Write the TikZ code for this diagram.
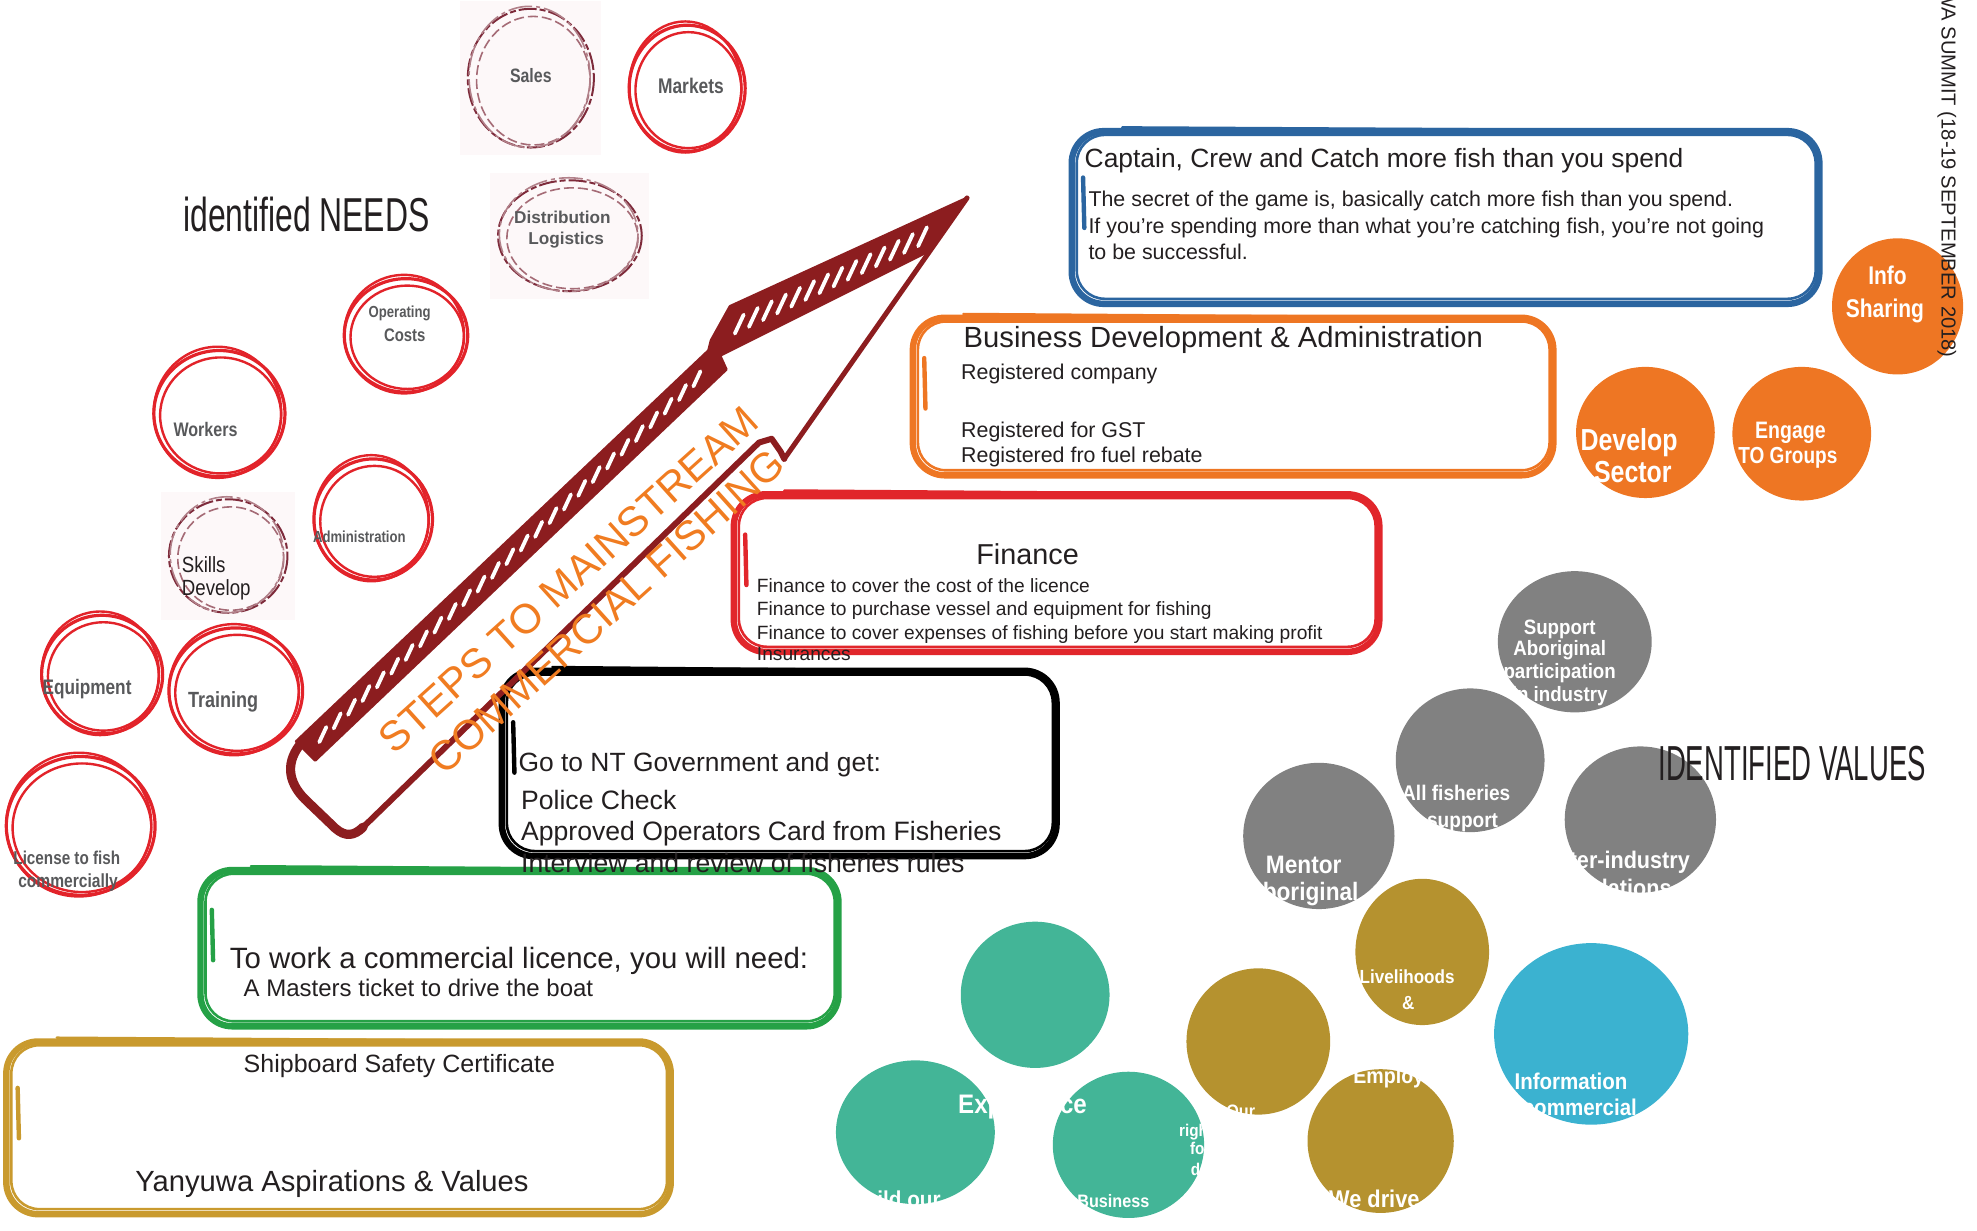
\documentclass[tikz,border=0pt]{standalone}
\usepackage{fontspec}
\setmainfont{Liberation Sans}
\newfontfamily\fneedlbl[FakeStretch=0.82]{Liberation Sans}
\newfontfamily\fvallbl[FakeStretch=0.9]{Liberation Sans}
\newfontfamily\fskill[FakeStretch=0.85]{Liberation Sans}
\newfontfamily\fneedhead[FakeStretch=0.67]{Liberation Sans}
\newfontfamily\fvalhead[FakeStretch=0.56]{Liberation Sans}
\usetikzlibrary{calc}

\definecolor{ink}{HTML}{231F20}
\definecolor{lblgray}{HTML}{58595B}
\definecolor{ringred}{HTML}{E2232A}
\definecolor{ringdark}{HTML}{7E2B3B}
\definecolor{ringbg}{HTML}{FDF8F9}
\definecolor{arrowred}{HTML}{8C1D1F}
\definecolor{steporange}{HTML}{F07C21}
\definecolor{boxblue}{HTML}{2B65A0}
\definecolor{boxorange}{HTML}{EE7623}
\definecolor{boxred}{HTML}{E1262B}
\definecolor{boxgreen}{HTML}{25A146}
\definecolor{boxgold}{HTML}{C99A2E}
\definecolor{dotorange}{HTML}{EE7623}
\definecolor{dotgray}{HTML}{818181}
\definecolor{dotgold}{HTML}{B5922F}
\definecolor{dotteal}{HTML}{43B597}
\definecolor{dotblue}{HTML}{3BB2D0}

% hand-drawn rounded box: colour, left, top, right, bottom
\newcommand\sketchbox[5]{%
  \draw[#1, line width=3.2pt, rounded corners=16pt] (#2,#3) rectangle (#4,#5);
  \draw[#1, line width=1.3pt, rounded corners=14pt] (#2+4,#3+3) rectangle (#4-3,#5-4);
  \draw[#1, line width=1.2pt, line cap=round] (#2+40,#3-3) -- (#4-180,#3-1);
  \draw[#1, line width=2.2pt, line cap=round] (#2+9,#3*0.6+#5*0.4-18) -- (#2+10,#3*0.6+#5*0.4+22);
}
% bright red scribbled ring: x, y, x radius, y radius
\newcommand\redring[4]{%
  \draw[ringred, line width=1.6pt] (#1,#2) ellipse [x radius=#3, y radius=#4];
  \draw[ringred, line width=1.2pt] (#1+1,#2+1.5) ellipse [x radius=#3-4, y radius=#4-4];
  \draw[ringred, line width=1.2pt] (#1-1.5,#2-1) ellipse [x radius=#3-1.5, y radius=#4+2];
}
% faded dashed ring on a pale square
\newcommand\dashring[4]{%
  \fill[ringbg] (#1-#3-6,#2-#4-6) rectangle (#1+#3+6,#2+#4+6);
  \draw[ringdark, line width=1pt, dash pattern=on 9pt off 1.5pt on 3pt off 1.5pt] (#1,#2) ellipse [x radius=#3, y radius=#4];
  \draw[ringdark!70, line width=0.8pt, dash pattern=on 5pt off 2pt] (#1+2,#2+2) ellipse [x radius=#3-5, y radius=#4-4];
  \draw[ringdark!60, line width=0.8pt, dash pattern=on 12pt off 2pt on 2pt off 2pt] (#1-1,#2-1) ellipse [x radius=#3-2, y radius=#4+1];
}

\tikzset{
  boxtext/.style={text=ink, inner sep=0pt, anchor=base west, font=\fontsize{#1}{#1}\selectfont},
  needlbl/.style={inner sep=0pt, anchor=base, text=lblgray, font=\fneedlbl\bfseries\fontsize{#1}{#1}\selectfont},
  dotlbl/.style={inner sep=0pt, anchor=base, text=white, font=\fneedlbl\bfseries\fontsize{#1}{#1}\selectfont},
  vallbl/.style={inner sep=0pt, anchor=base, text=white, font=\fvallbl\bfseries\fontsize{#1}{#1}\selectfont},
  slit/.style={white, line width=1.9pt, line cap=round},
}

\begin{document}
\begin{tikzpicture}[x=0.6305pt,y=-0.6305pt]
\useasboundingbox (0,0) rectangle (1568,976);
\clip (0,0) rectangle (1568,976);

% ---- step boxes ----
\sketchbox{boxblue}{850}{104}{1443}{241}
\sketchbox{boxorange}{724}{252}{1232}{377}
\sketchbox{boxred}{582}{392}{1094}{517}
\sketchbox{black}{398}{532}{838}{679}
\sketchbox{boxgreen}{159}{690}{665}{814}
\sketchbox{boxgold}{5}{826}{532}{963}

% ---- big arrow ----
% hatched band along the upper edge of shaft and head
\filldraw[arrowred, line width=1.4pt, line join=round]
  (767,157) -- (579,243) -- (564,270) -- (562,278) -- (235,588) -- (250,603)
  -- (576,293) -- (571,282) -- (735,200) -- cycle;
% rounded tail
\draw[arrowred, line width=4.6pt, line cap=round, line join=round]
  (240,588) .. controls (226,604) and (228,620) .. (242,634) -- (266,657)
  .. controls (274,664) and (281,663) .. (288,656);
% lower edge of shaft with its small notch
\draw[arrowred, line width=3pt, line cap=round, line join=round]
  (286,658) -- (602,351) -- (612,348) -- (619,358) -- (622,364);
% right edge of head
\draw[arrowred, line width=2.5pt, line cap=round] (622,364) -- (767,157);
% white slits in the band
\coordinate (sm0) at (243,595);
\coordinate (sm1) at (569,285);
\coordinate (hm0) at (576,262);
\coordinate (hm1) at (748,180);
\foreach \t in {0.04,0.075,...,0.97}
  \draw[slit] ($(sm0)!\t!(sm1)+(-2.8,6)$) -- ($(sm0)!\t!(sm1)+(2.8,-6)$);
\foreach \t in {0.06,0.125,...,0.95}
  \draw[slit] ($(hm0)!\t!(hm1)+(-3.5,7.5)$) -- ($(hm0)!\t!(hm1)+(3.5,-7.5)$);

% ---- needs rings ----
\dashring{421}{62}{50}{55}
\dashring{452}{187}{57}{44}
\dashring{181}{441}{47}{45}
\redring{545}{70}{46}{50}
\redring{322}{266}{49}{45}
\redring{174}{328}{52}{50}
\redring{296}{412}{47}{48}
\redring{81}{535}{48}{47}
\redring{187}{548}{53}{50}
\redring{64}{655}{59}{55}

% ---- values dots ----
\fill[dotorange] (1505,243) ellipse [x radius=52, y radius=54];
\fill[dotorange] (1305,343) ellipse [x radius=55, y radius=52];
\fill[dotorange] (1429,344) ellipse [x radius=55, y radius=53];
\fill[dotgray] (1249,509) ellipse [x radius=61, y radius=56];
\fill[dotgray] (1166,603) ellipse [x radius=59, y radius=57];
\fill[dotgray] (1046,663) ellipse [x radius=60, y radius=58];
\fill[dotgray] (1301,650) ellipse [x radius=60, y radius=58];
\fill[dotgold] (1128,755) ellipse [x radius=53, y radius=58];
\fill[dotgold] (998,826) ellipse [x radius=57, y radius=58];
\fill[dotgold] (1095,905) ellipse [x radius=58, y radius=57];
\fill[dotteal] (821,789) ellipse [x radius=59, y radius=58];
\fill[dotteal] (726,898) ellipse [x radius=63, y radius=57];
\fill[dotteal] (895,908) ellipse [x radius=60, y radius=58];
\fill[dotblue] (1262,820) ellipse [x radius=77, y radius=72];

% ---- headings ----
\node[inner sep=0pt, anchor=base west, text=ink, font=\fneedhead\fontsize{23.8}{28}\selectfont] (needshead) at (145,184) {identified NEEDS};
\node[inner sep=0pt, anchor=base west, text=ink, font=\fvalhead\fontsize{24.6}{28}\selectfont] (valueshead) at (1315,619) {IDENTIFIED VALUES};
\node[rotate=-90, anchor=east, inner sep=0pt, text=ink, font=\fontsize{10.1}{12}\selectfont] (summit) at (1544,284) {YANYUWA SUMMIT (18-19 SEPTEMBER 2018)};
\node[rotate=42, inner sep=0pt, text=steporange, font=\fontsize{20.8}{24}\selectfont] (steps) at (451,460) {STEPS TO MAINSTREAM};
\node[rotate=42, inner sep=0pt, text=steporange, font=\fontsize{20.8}{24}\selectfont] (commercial) at (481,485) {COMMERCIAL FISHING};

% ---- needs labels ----
\node[needlbl=9.7] (sales) at (421,65.5) {Sales};
\node[needlbl=10.6] (markets) at (548,74) {Markets};
\node[inner sep=0pt, anchor=base, text=lblgray, font=\bfseries\fontsize{8.6}{9}\selectfont] (distrib) at (446,177) {Distribution};
\node[inner sep=0pt, anchor=base, text=lblgray, font=\bfseries\fontsize{8.6}{9}\selectfont] (logist) at (449,194) {Logistics};
\node[needlbl=8] (operating) at (317,252) {Operating};
\node[needlbl=9.1] (costs) at (321,271) {Costs};
\node[needlbl=9.8] (workers) at (163,346.5) {Workers};
\node[needlbl=8] (admin) at (285,430.5) {Administration};
\node[inner sep=0pt, anchor=base west, text=ink, font=\fskill\fontsize{11}{12}\selectfont] (skills) at (144,454) {Skills};
\node[inner sep=0pt, anchor=base west, text=ink, font=\fskill\fontsize{11}{12}\selectfont] (develop) at (144,472) {Develop};
\node[needlbl=10.5] (equipment) at (69,551) {Equipment};
\node[needlbl=11] (training) at (177,561) {Training};
\node[needlbl=9.3] (licence) at (53,686) {License to fish};
\node[needlbl=9.5] (commercially) at (54,704) {commercially};

% ---- box texts ----
\node[boxtext=13.2] (captain) at (860,133) {Captain, Crew and Catch more fish than you spend};
\node[boxtext=10.7] (secret1) at (863,164) {The secret of the game is, basically catch more fish than you spend.};
\node[boxtext=10.7] (secret2) at (863,185) {If you’re spending more than what you’re catching fish, you’re not going};
\node[boxtext=10.7] (secret3) at (863,206) {to be successful.};
\node[boxtext=14.6] (busdev) at (764,276) {Business Development \& Administration};
\node[boxtext=10.7] (regco) at (762,301) {Registered company};
\node[boxtext=10.7] (reggst) at (762,347) {Registered for GST};
\node[boxtext=10.7] (regfuel) at (762,367) {Registered fro fuel rebate};
\node[boxtext=14.4, anchor=base] (finance) at (815,448) {Finance};
\node[boxtext=9.6] (fin1) at (600,470) {Finance to cover the cost of the licence};
\node[boxtext=9.6] (fin2) at (600,488) {Finance to purchase vessel and equipment for fishing};
\node[boxtext=9.6] (fin3) at (600,507) {Finance to cover expenses of fishing before you start making profit};
\node[boxtext=9.6] (fin4) at (600,524) {Insurances};
\node[boxtext=13.2] (ntgov) at (411,612) {Go to NT Government and get:};
\node[boxtext=13.3] (police) at (413,642) {Police Check};
\node[boxtext=13.3] (aoc) at (413,667) {Approved Operators Card from Fisheries};
\node[boxtext=13.3] (interview) at (413,692) {Interview and review of fisheries rules};
\node[boxtext=14.7] (towork) at (182,768) {To work a commercial licence, you will need:};
\node[boxtext=12] (masters) at (193,790) {A Masters ticket to drive the boat};
\node[boxtext=12.5] (shipboard) at (193,851) {Shipboard Safety Certificate};
\node[boxtext=14.6] (yanyuwa) at (107,945) {Yanyuwa Aspirations \& Values};

% ---- values labels ----
\node[dotlbl=12.8] (info1) at (1497,226) {Info};
\node[dotlbl=12.8] (info2) at (1495,252) {Sharing};
\node[dotlbl=15.2] (dev1) at (1292,357) {Develop};
\node[dotlbl=15.2] (dev2) at (1295,383) {Sector};
\node[dotlbl=11.9] (eng1) at (1420,347.5) {Engage};
\node[dotlbl=11.6] (eng2) at (1418,367.5) {TO Groups};
\node[vallbl=10.4] (sup1) at (1237,503) {Support};
\node[vallbl=10.4] (sup2) at (1237,520) {Aboriginal};
\node[vallbl=10.4] (sup3) at (1237,538) {participation};
\node[vallbl=10.4] (sup4) at (1237,556) {in industry};
\node[vallbl=10.6] (fish1) at (1155,635) {All fisheries};
\node[vallbl=10.6] (fish2) at (1160,656) {support};
\node[vallbl=12.6] (ment1) at (1034,693) {Mentor};
\node[vallbl=12.6] (ment2) at (1033,714) {Aboriginal};
\node[vallbl=12] (inter1) at (1285,689) {Inter-industry};
\node[vallbl=12] (inter2) at (1290,711) {relations};
\node[vallbl=9.5] (live1) at (1116,780) {Livelihoods};
\node[vallbl=9.5] (live2) at (1117,801) {\&};
\node[vallbl=10.9] (employ) at (1120,859) {Employment};
\node[vallbl=12.1] (drive) at (1090,958) {We drive};
\node[vallbl=9] (our) at (984,886) {Our};
\node[vallbl=13.4] (experience) at (811,883) {Experience};
\node[vallbl=11.5] (build) at (710,958) {Build our};
\node[vallbl=9] (business) at (883,958) {Business};
\node[vallbl=8.5] (rights1) at (952,901) {rights};
\node[vallbl=8.5] (rights2) at (952,916) {for};
\node[vallbl=8.5] (rights3) at (952,932) {do};
\node[vallbl=11.4] (inform1) at (1246,864) {Information};
\node[vallbl=11.4] (inform2) at (1253,885) {commercial};
\end{tikzpicture}
\end{document}
